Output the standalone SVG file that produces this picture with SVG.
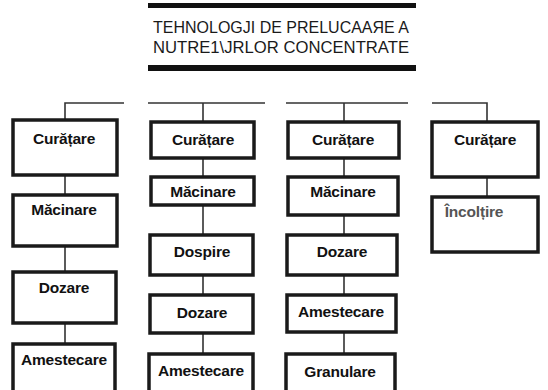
<svg xmlns="http://www.w3.org/2000/svg" width="548" height="390" viewBox="0 0 548 390">
<style>
.bar{fill:#111}
.title{font-family:"Liberation Sans",Arial,sans-serif;font-size:17px;fill:#1a1a1a;text-anchor:middle}
.box{fill:#fff;stroke:#1a1a1a;stroke-width:3.5}
.lbl{font-family:"Liberation Sans",Arial,sans-serif;font-size:15.5px;font-weight:bold;fill:#111;text-anchor:middle;letter-spacing:-0.2px}
.ln{fill:none;stroke:#333;stroke-width:1.6}
</style>
<rect width="548" height="390" fill="#fff"/>
<g id="title">
<rect class="bar" x="148" y="3" width="268" height="5"/>
<text class="title" x="281" y="33" textLength="256" lengthAdjust="spacingAndGlyphs">TEHNOLOGJI DE PRELUCAAЯE A</text>
<text class="title" x="281" y="53" textLength="256" lengthAdjust="spacingAndGlyphs">NUTRE1\JRLOR CONCENTRATE</text>
<rect class="bar" x="148" y="65" width="268" height="6"/>
</g>
<g id="connectors">
<path class="ln" d="M124 103H65V120M65 175V195M65 246V272M65 323V344"/>
<path class="ln" d="M148 103H265M203 103V122M203 158V177M203 205V235M203 275V295M203 333V354"/>
<path class="ln" d="M286 103H408M344 103V122M344 158V177M344 215V235M344 275V295M344 332V354"/>
<path class="ln" d="M432 103H487V122M487 177V197"/>
</g>
<g id="c1-curatare"><rect class="box" x="13" y="120" width="104" height="55"/><text class="lbl" x="64" y="144">Curățare</text></g>
<g id="c1-macinare"><rect class="box" x="13" y="195" width="104" height="51"/><text class="lbl" x="64" y="215">Măcinare</text></g>
<g id="c1-dozare"><rect class="box" x="13" y="272" width="103" height="51"/><text class="lbl" x="64" y="293">Dozare</text></g>
<g id="c1-amestecare"><rect class="box" x="13" y="344" width="102" height="60"/><text class="lbl" x="64" y="365">Amestecare</text></g>
<g id="c2-curatare"><rect class="box" x="151" y="122" width="103" height="36"/><text class="lbl" x="203" y="145">Curățare</text></g>
<g id="c2-macinare"><rect class="box" x="151" y="177" width="103" height="28"/><text class="lbl" x="203" y="197">Măcinare</text></g>
<g id="c2-dospire"><rect class="box" x="150" y="235" width="103" height="40"/><text class="lbl" x="202" y="257">Dospire</text></g>
<g id="c2-dozare"><rect class="box" x="150" y="295" width="103" height="38"/><text class="lbl" x="202" y="318">Dozare</text></g>
<g id="c2-amestecare"><rect class="box" x="149" y="354" width="104" height="50"/><text class="lbl" x="201" y="376">Amestecare</text></g>
<g id="c3-curatare"><rect class="box" x="288" y="122" width="111" height="36"/><text class="lbl" x="343" y="145">Curățare</text></g>
<g id="c3-macinare"><rect class="box" x="288" y="177" width="110" height="38"/><text class="lbl" x="343" y="197">Măcinare</text></g>
<g id="c3-dozare"><rect class="box" x="287" y="235" width="110" height="40"/><text class="lbl" x="342" y="257">Dozare</text></g>
<g id="c3-amestecare"><rect class="box" x="287" y="295" width="109" height="37"/><text class="lbl" x="341" y="317">Amestecare</text></g>
<g id="c3-granulare"><rect class="box" x="286" y="354" width="109" height="50"/><text class="lbl" x="340" y="377">Granulare</text></g>
<g id="c4-curatare"><rect class="box" x="432" y="122" width="106" height="55"/><text class="lbl" x="485" y="145">Curățare</text></g>
<g id="c4-incoltire"><rect class="box" x="432" y="197" width="106" height="55"/><text class="lbl" x="474" y="217" style="fill:#555">Încolțire</text></g>
</svg>
